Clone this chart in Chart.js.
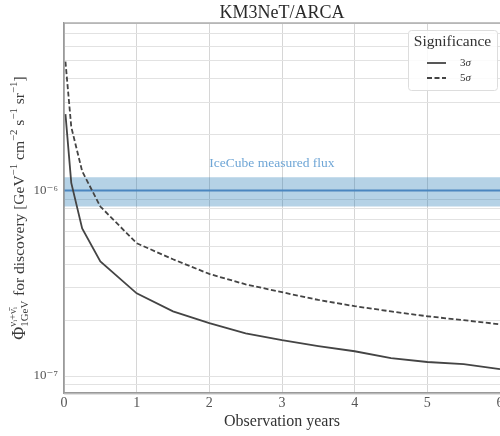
<!DOCTYPE html>
<html>
<head>
<meta charset="utf-8">
<script src="https://cdn.jsdelivr.net/npm/chart.js@4.4.1/dist/chart.umd.min.js"></script>
<style>
  html, body { margin: 0; padding: 0; background: #fff; }
  #wrap { width: 500px; height: 436px; }
</style>
</head>
<body>
<div id="wrap"><canvas id="fluxChart" width="500" height="436"></canvas></div>
<script>
// observation time in years
const years = [0.02, 0.1, 0.25, 0.5, 1, 1.5, 2, 2.5, 3, 3.5, 4, 4.5, 5, 5.5, 6];

// discovery flux, GeV^-1 cm^-2 s^-1 sr^-1
const sigma3 = [2.58e-6, 1.1e-6, 6.25e-7, 4.15e-7, 2.79e-7, 2.23e-7, 1.93e-7, 1.70e-7,
                1.56e-7, 1.45e-7, 1.36e-7, 1.25e-7, 1.19e-7, 1.16e-7, 1.09e-7];
const sigma5 = [4.95e-6, 2.2e-6, 1.27e-6, 8.2e-7, 5.2e-7, 4.26e-7, 3.55e-7, 3.12e-7,
                2.83e-7, 2.57e-7, 2.38e-7, 2.23e-7, 2.10e-7, 2.0e-7, 1.9e-7];

// IceCube measured flux and its band
const bandYears = [0, 6];
const iceCubeFlux = [1e-6, 1e-6];
const iceCubeLow = [0.82e-6, 0.82e-6];
const iceCubeHigh = [1.18e-6, 1.18e-6];

// ticks
const xTicks = [0, 1, 2, 3, 4, 5, 6];
const yTicks = [8e-8, 9e-8, 1e-7, 2e-7, 3e-7, 4e-7, 5e-7, 6e-7, 7e-7, 8e-7, 9e-7,
                1e-6, 2e-6, 3e-6, 4e-6, 5e-6, 6e-6, 7e-6, 8e-6];
const yLabelValues = [1e-7, 1e-6];
const yLabelTexts = ['10\u207B\u2077', '10\u207B\u2076'];

const serif = '"Liberation Serif", "DejaVu Serif", serif';
const curveColor = '#444444';

function pts(xs, ys) {
  return xs.map(function (x, i) { return { x: x, y: ys[i] }; });
}

// draws text made of pieces (normal, super-, subscript), centred on 0,0
function richText(ctx, parts, size) {
  let w = 0;
  parts.forEach(function (p) {
    if (p.stack) {
      ctx.font = (size * 0.7) + 'px ' + serif;
      w += Math.max(ctx.measureText(p.stack[0]).width, ctx.measureText(p.stack[1]).width) + 1;
    } else {
      ctx.font = (p.it ? 'italic ' : '') + (p.sup ? size * 0.7 : (p.big ? size * 1.15 : size)) + 'px ' + serif;
      w += ctx.measureText(p.t).width;
    }
  });
  let x = -w / 2;
  parts.forEach(function (p) {
    if (p.stack) {
      ctx.font = (size * 0.7) + 'px ' + serif;
      ctx.fillText(p.stack[0], x, -size * 0.45);
      ctx.fillText(p.stack[1], x, size * 0.32);
      x += Math.max(ctx.measureText(p.stack[0]).width, ctx.measureText(p.stack[1]).width) + 1;
    } else {
      ctx.font = (p.it ? 'italic ' : '') + (p.sup ? size * 0.7 : (p.big ? size * 1.15 : size)) + 'px ' + serif;
      ctx.fillText(p.t, x, p.sup ? -size * 0.38 : 0);
      x += ctx.measureText(p.t).width;
    }
  });
}

const extras = {
  id: 'extras',
  beforeDatasetsDraw(chart) {
    // band label
    const ctx = chart.ctx;
    const xs = chart.scales.x, ys = chart.scales.y;
    ctx.save();
    ctx.fillStyle = '#6fa6d6';
    ctx.font = '13.5px ' + serif;
    ctx.textAlign = 'left';
    ctx.textBaseline = 'middle';
    ctx.fillText('IceCube measured flux', xs.getPixelForValue(2.0), ys.getPixelForValue(1.4e-6));
    ctx.restore();
  },
  afterDraw(chart) {
    const ctx = chart.ctx;
    const a = chart.chartArea;
    ctx.save();
    // frame
    ctx.strokeStyle = '#9a9a9a';
    ctx.lineWidth = 1.2;
    ctx.strokeRect(a.left, a.top, a.right - a.left + 2, a.bottom - a.top);

    // y-axis title
    ctx.fillStyle = '#3a3a3a';
    ctx.textAlign = 'left';
    ctx.textBaseline = 'middle';
    ctx.translate(20, (a.top + a.bottom) / 2);
    ctx.rotate(-Math.PI / 2);
    richText(ctx, [
      { t: '\u03A6', big: true },
      { stack: ['\u03BD\u1D62+\u03BD\u0304\u1D62', '1GeV'] },
      { t: ' for discovery [GeV' }, { t: '\u22121', sup: true },
      { t: ' cm' }, { t: '\u22122', sup: true },
      { t: ' s' }, { t: '\u22121', sup: true },
      { t: ' sr' }, { t: '\u22121', sup: true },
      { t: ']' }
    ], 15.5);
    ctx.restore();

    // legend
    const bx = 408, by = 30, bw = 89, bh = 60;
    ctx.save();
    ctx.fillStyle = 'rgba(255,255,255,0.85)';
    ctx.strokeStyle = '#dddddd';
    ctx.lineWidth = 1;
    ctx.beginPath();
    ctx.roundRect(bx + 0.5, by + 0.5, bw, bh, 3);
    ctx.fill();
    ctx.stroke();
    ctx.fillStyle = '#333';
    ctx.font = '15.5px ' + serif;
    ctx.textAlign = 'center';
    ctx.textBaseline = 'middle';
    ctx.fillText('Significance', bx + bw / 2, by + 12);
    chart.data.datasets.slice(0, 2).forEach(function (ds, i) {
      const y = by + 33 + i * 15;
      ctx.strokeStyle = ds.borderColor;
      ctx.lineWidth = ds.borderWidth;
      ctx.setLineDash(ds.borderDash || []);
      ctx.beginPath();
      ctx.moveTo(427, y);
      ctx.lineTo(446, y);
      ctx.stroke();
      ctx.setLineDash([]);
      ctx.textAlign = 'left';
      ctx.font = '11px ' + serif;
      const num = ds.label.charAt(0);
      ctx.fillText(num, 460, y);
      const w = ctx.measureText(num).width;
      ctx.font = 'italic 11px ' + serif;
      ctx.fillText(ds.label.slice(1), 460 + w, y);
    });
    ctx.restore();
  }
};

const ctx = document.getElementById('fluxChart').getContext('2d');

const chart = new Chart(ctx, {
  type: 'line',
  data: {
    datasets: [
      {
        label: '3\u03C3',
        data: pts(years, sigma3),
        borderColor: curveColor,
        borderWidth: 1.8,
        pointRadius: 0,
        tension: 0
      },
      {
        label: '5\u03C3',
        data: pts(years, sigma5),
        borderColor: curveColor,
        borderWidth: 1.8,
        borderDash: [5, 2.5],
        pointRadius: 0,
        tension: 0
      },
      {
        label: 'IceCube measured flux',
        data: pts(bandYears, iceCubeFlux),
        borderColor: '#4a86c0',
        borderWidth: 2,
        pointRadius: 0
      },
      {
        label: 'band low',
        data: pts(bandYears, iceCubeLow),
        borderWidth: 0,
        borderColor: 'rgba(0,0,0,0)',
        pointRadius: 0
      },
      {
        label: 'band high',
        data: pts(bandYears, iceCubeHigh),
        borderWidth: 0,
        borderColor: 'rgba(0,0,0,0)',
        backgroundColor: 'rgba(31,119,180,0.33)',
        pointRadius: 0,
        fill: '-1'
      }
    ]
  },
  options: {
    responsive: false,
    animation: false,
    events: [],
    layout: { padding: 0 },
    plugins: {
      legend: { display: false },
      tooltip: { enabled: false },
      title: {
        display: true,
        text: 'KM3NeT/ARCA',
        fullSize: false,
        color: '#2a2a2a',
        font: { family: serif, size: 18, weight: 'normal', lineHeight: 1 },
        padding: { top: 4, bottom: 1 }
      }
    },
    scales: {
      x: {
        type: 'linear',
        min: 0,
        max: 6,
        afterBuildTicks: function (s) { s.ticks = xTicks.map(function (v) { return { value: v }; }); },
        afterFit: function (s) { s.height = 43; s.paddingLeft = 0; s.paddingRight = 0; },
        grid: { color: '#d6d6d6', lineWidth: 1, drawTicks: false },
        border: { color: '#9a9a9a', width: 1.2 },
        ticks: { color: '#555', padding: 2, font: { family: serif, size: 14 } },
        title: {
          display: true,
          text: 'Observation years',
          color: '#333',
          font: { family: serif, size: 16 },
          padding: { top: 0, bottom: 5 }
        }
      },
      y: {
        type: 'logarithmic',
        min: 8.1e-8,
        max: 8.0e-6,
        afterBuildTicks: function (s) { s.ticks = yTicks.map(function (v) { return { value: v }; }); },
        afterFit: function (s) { s.width = 64; s.paddingTop = 0; s.paddingBottom = 0; },
        grid: { color: '#e2e2e2', lineWidth: 1, drawTicks: false },
        border: { color: '#9a9a9a', width: 1.2 },
        ticks: {
          color: '#555',
          padding: 6,
          autoSkip: false,
          font: { family: serif, size: 13 },
          callback: function (v) {
            for (let i = 0; i < yLabelValues.length; i++) {
              if (Math.abs(v / yLabelValues[i] - 1) < 1e-6) return yLabelTexts[i];
            }
            return '';
          }
        }
      }
    }
  },
  plugins: [extras]
});
</script>
</body>
</html>
